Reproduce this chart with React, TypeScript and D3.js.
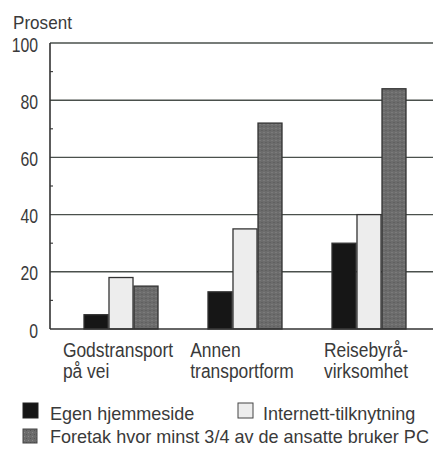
import React from "react";
import * as d3 from "d3";

const categories: string[][] = [["Godstransport", "på vei"], ["Annen", "transportform"], ["Reisebyrå-", "virksomhet"]];
const seriesNames = ["Egen hjemmeside", "Internett-tilknytning", "Foretak hvor minst 3/4 av de ansatte bruker PC"];
const egen = [5, 13, 30];
const internett = [18, 35, 40];
const foretak = [15, 72, 84];
const yTicks = [0, 20, 40, 60, 80, 100];
const minorTicks = [10, 30, 50, 70, 90];

const W = 433, H = 459;
const left = 50, right = 433, top = 43, bottom = 329;
const FONT = "'Liberation Sans', Arial, Helvetica, sans-serif";
const fills = ["#161616", "#ededed", "url(#stip)"];
const TXT = "#3a3a3a";

function measure(s: string, size: number): number {
  if (typeof document === "undefined") return s.length * size * 0.5;
  const c = document.createElement("canvas").getContext("2d");
  if (!c) return s.length * size * 0.5;
  c.font = `${size}px 'Liberation Sans', Arial, sans-serif`;
  return c.measureText(s).width;
}

function SText(props: { x: number; y: number; sx: number; size: number; anchor?: string; children: string }) {
  return (
    <g transform={`translate(${props.x},${props.y}) scale(${props.sx},1)`}>
      <text x={0} y={0} fontSize={props.size} textAnchor={props.anchor || "start"} fill={TXT}>{props.children}</text>
    </g>
  );
}

export default function App() {
  const y = d3.scaleLinear().domain([0, 100]).range([bottom, top]);
  const x0 = d3.scaleBand<number>().domain([0, 1, 2]).range([58, 432]).paddingInner(0.395).paddingOuter(0.2056);
  const x1 = d3.scaleBand<number>().domain([0, 1, 2]).range([0, x0.bandwidth()]).padding(0);
  const series = [egen, internett, foretak];
  const catSize = 20, catSx = 0.87;
  return (
    <svg width={W} height={H} style={{ position: "absolute", left: 0, top: 0, background: "#fff" }} fontFamily={FONT}>
      <defs>
        <pattern id="stip" width="4" height="4" patternUnits="userSpaceOnUse">
          <rect width="4" height="4" fill="#6c6c6c" />
          <rect x="0" y="0" width="1" height="1" fill="#888" />
          <rect x="2" y="2" width="1" height="1" fill="#555" />
        </pattern>
      </defs>
      <SText x={13} y={29} sx={0.95} size={18}>Prosent</SText>
      {yTicks.map((t) => (
        <g key={t}>
          {t > 0 && <line x1={left} x2={right} y1={y(t)} y2={y(t)} stroke="#4a504c" strokeWidth={1.4} />}
          <SText x={38} y={y(t) + 8.5} sx={0.79} size={20} anchor="end">{String(t)}</SText>
        </g>
      ))}
      {minorTicks.map((t) => (
        <line key={t} x1={left} x2={left + 3} y1={y(t)} y2={y(t)} stroke="#444" strokeWidth={1.2} />
      ))}
      {categories.map((c, i) => (
        <g key={i} transform={`translate(${x0(i)},0)`}>
          {series.map((s, j) => (
            <rect key={j} x={x1(j)! + 0.5} y={y(s[i])} width={x1.bandwidth() - 1} height={y(0) - y(s[i])}
              fill={fills[j]} stroke="#333" strokeWidth={1.3} />
          ))}
        </g>
      ))}
      <line x1={left} x2={right} y1={bottom} y2={bottom} stroke="#333" strokeWidth={1.6} />
      <line x1={left} x2={left} y1={top} y2={bottom} stroke="#333" strokeWidth={1.6} />
      {categories.map((c, i) => {
        const wmax = Math.max(...c.map((l) => measure(l, catSize))) * catSx;
        const lx = x0(i)! + x0.bandwidth() / 2 - 3 - wmax / 2;
        return (
          <g key={i}>
            <SText x={lx} y={357} sx={catSx} size={catSize}>{c[0]}</SText>
            <SText x={lx} y={378} sx={catSx} size={catSize}>{c[1]}</SText>
          </g>
        );
      })}
      <g>
        <rect x={23} y={403} width={15} height={15} fill={fills[0]} stroke="#222" />
        <SText x={50} y={420} sx={0.95} size={19}>{seriesNames[0]}</SText>
        <rect x={238} y={403} width={15} height={15} fill={fills[1]} stroke="#444" />
        <SText x={263} y={420} sx={0.95} size={19}>{seriesNames[1]}</SText>
        <rect x={23} y={429} width={14} height={14} fill={fills[2]} stroke="#444" />
        <SText x={50} y={443} sx={0.95} size={19}>{seriesNames[2]}</SText>
      </g>
    </svg>
  );
}
